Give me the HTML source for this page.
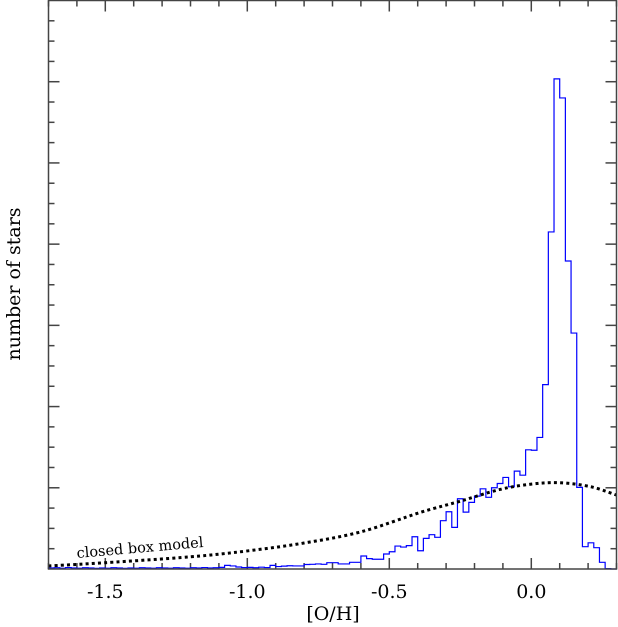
<!DOCTYPE html>
<html><head><meta charset="utf-8"><style>
html,body{margin:0;padding:0;background:#fff;}
svg{display:block;font-family:"DejaVu Serif","Liberation Serif",serif;}
</style></head><body>
<svg id="chart" width="618" height="627" viewBox="0 0 618 627" xmlns="http://www.w3.org/2000/svg"></svg>
<script>
const binStart = -1.70;
const binWidth = 0.02;
const counts = [
0.05,0.06,0.04,0.07,0.05,0.04,0.06,0.05,0.03,0.05,
0.04,0.06,0.05,0.03,0.05,0.04,0.06,0.05,0.04,0.06,
0.05,0.04,0.06,0.05,0.04,0.06,0.05,0.07,0.05,0.06,
0.08,0.18,0.15,0.10,0.07,0.08,0.06,0.09,0.07,0.18,
0.12,0.14,0.16,0.15,0.15,0.22,0.23,0.25,0.23,0.31,
0.31,0.25,0.25,0.33,0.33,0.64,0.51,0.48,0.48,0.74,
0.85,1.13,1.08,1.15,1.59,0.90,1.51,1.69,1.56,2.38,
2.82,2.05,3.46,2.80,3.28,3.59,3.95,3.53,4.00,4.21,
4.51,4.05,4.82,4.62,5.87,5.85,6.48,9.08,16.6,24.14,
23.2,15.17,11.62,4.02,1.10,1.29,1.05,0.33,0.02,0.0];
const modelX = [-1.7,-1.5,-1.2,-1.0,-0.8,-0.6,-0.39,-0.25,-0.11,0,0.1,0.21,0.3];
const modelY = [0.15,0.31,0.6,0.89,1.28,1.83,2.79,3.34,3.92,4.18,4.25,4.05,3.64];
const xTickVals = [-1.5,-1.0,-0.5,0.0];
const xTickLabels = ["-1.5","-1.0","-0.5","0.0"];

const L=48.5,R=616.5,T=0.5,B=569;
const xMin=-1.7,xMax=0.3,yMin=0,yMax=28;
const sx=v=>L+(v-xMin)/(xMax-xMin)*(R-L);
const sy=v=>B-(v-yMin)/(yMax-yMin)*(B-T);
const NS="http://www.w3.org/2000/svg";
const svg=document.getElementById('chart');
function mk(tag,attrs,parent){const e=document.createElementNS(NS,tag);for(const k in attrs)e.setAttribute(k,attrs[k]);(parent||svg).appendChild(e);return e;}

const ticks=mk('g',{stroke:'#444','stroke-width':1.5});


for(let i=0;i<=20;i++){const v=xMin+i*0.1;const x=sx(v);const major=Math.abs(Math.round(v*10)%5)===0;const len=major?11:6;
 mk('line',{x1:x,y1:B,x2:x,y2:B-len},ticks);mk('line',{x1:x,y1:T,x2:x,y2:T+len},ticks);}
for(let v=1;v<yMax;v++){const y=sy(v);const len=v%4===0?11:6;
 mk('line',{x1:L,y1:y,x2:L+len,y2:y},ticks);mk('line',{x1:R,y1:y,x2:R-len,y2:y},ticks);}

let d='M'+sx(binStart)+','+sy(0);
counts.forEach((c,i)=>{const x0=sx(binStart+i*binWidth),x1=sx(binStart+(i+1)*binWidth);d+=' L'+x0+','+sy(c)+' L'+x1+','+sy(c);});
d+=' L'+sx(binStart+counts.length*binWidth)+','+sy(0);
const hist=mk('path',{d:d,fill:'none',stroke:'#0000ff','stroke-width':1.2});



const pts=modelX.map((x,i)=>[sx(x),sy(modelY[i])]);
let cd='M'+pts[0][0]+','+pts[0][1];
for(let i=0;i<pts.length-1;i++){const p0=pts[Math.max(0,i-1)],p1=pts[i],p2=pts[i+1],p3=pts[Math.min(pts.length-1,i+2)];
 const c1=[p1[0]+(p2[0]-p0[0])/6,p1[1]+(p2[1]-p0[1])/6],c2=[p2[0]-(p3[0]-p1[0])/6,p2[1]-(p3[1]-p1[1])/6];
 cd+=' C'+c1+' '+c2+' '+p2;}
const curve=mk('path',{d:cd,fill:'none',stroke:'#000','stroke-width':3,'stroke-dasharray':'3 3.2'});



const frame=mk('rect',{x:L,y:T,width:R-L,height:B-T,fill:'none',stroke:'#444','stroke-width':1.5});



xTickVals.forEach((v,i)=>{const t=mk('text',{x:sx(v),y:598,'text-anchor':'middle','font-size':19,fill:'#000'});t.textContent=xTickLabels[i];
 
 });
</script>
<svg width="618" height="627" style="position:absolute;left:0;top:0;font-family:'DejaVu Serif','Liberation Serif',serif;">
<text x="333" y="620" text-anchor="middle" font-size="19">[O/H]</text>
<text transform="translate(20,284) rotate(-90)" text-anchor="middle" font-size="19">number of stars</text>
<text transform="translate(77,558) rotate(-5)" font-size="14.5">closed box model</text>
</svg>
</body></html>
